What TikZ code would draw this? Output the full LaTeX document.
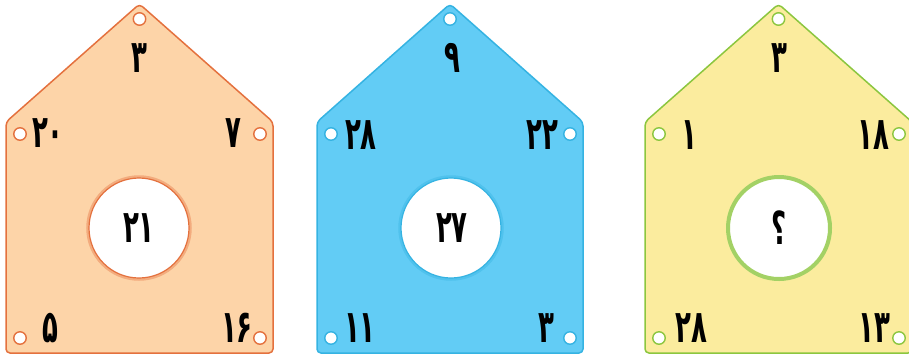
\documentclass[tikz,border=0pt]{standalone}
\usepackage{fontspec}
\newfontfamily\digfont[Script=Arabic]{DejaVu Sans}
\newcommand\dig[1]{\scalebox{1}[1.75]{#1}}
\definecolor{orfill}{HTML}{FDD4A8}
\definecolor{ordraw}{HTML}{E4713E}
\definecolor{blfill}{HTML}{62CCF5}
\definecolor{bldraw}{HTML}{35B3E2}
\definecolor{yefill}{HTML}{FBEC9E}
\definecolor{yedraw}{HTML}{8CC63F}
\begin{document}
\begin{tikzpicture}[x=1pt,y=-1pt,
    num/.style={font=\digfont\bfseries\fontsize{26}{26}\selectfont,inner sep=0pt},
    hole/.style={circle,fill=white,line width=1.4pt,minimum size=12.5pt,inner sep=0pt},
    house/.style={line width=1.5pt,rounded corners=4pt,line join=round}]
            \useasboundingbox (0,0) rectangle (909,360);
            \clip (0,0) rectangle (909,360);

            % first house
            \draw[house,draw=ordraw,fill=orfill] (6,353) -- (6,122) -- (139.5,4) -- (273,122) -- (273,353) -- cycle;
            \draw[orfill!60!ordraw,line width=3.5pt] (139,228) circle (51);
            \node[circle,draw=ordraw,fill=white,line width=1.2pt,minimum size=100pt,inner sep=0pt] (c1) at (139,228) {};
            \node[hole,draw=ordraw] (h1a) at (139.5,19) {};
            \node[hole,draw=ordraw] (h1b) at (20,134) {};
            \node[hole,draw=ordraw] (h1c) at (260,134) {};
            \node[hole,draw=ordraw] (h1d) at (20,338) {};
            \node[hole,draw=ordraw] (h1e) at (260,338) {};
            \node[num] (n1a) at (139,58) {\dig{۳}};
            \node[num] (n1b) at (48,133) {\dig{۲۰}};
            \node[num] (n1c) at (233,133) {\dig{۷}};
            \node[num] (n1d) at (139,228) {\dig{۲۱}};
            \node[num] (n1e) at (50,328) {\dig{۵}};
            \node[num] (n1f) at (237,328) {\dig{۱۶}};

            % second house
            \draw[house,draw=bldraw,fill=blfill] (317,353) -- (317,122) -- (450,4) -- (583,122) -- (583,353) -- cycle;
            \draw[blfill!60!bldraw,line width=3.5pt] (451,228) circle (51);
            \node[circle,draw=bldraw,fill=white,line width=1.2pt,minimum size=100pt,inner sep=0pt] (c2) at (451,228) {};
            \node[hole,draw=bldraw] (h2a) at (450,19) {};
            \node[hole,draw=bldraw] (h2b) at (331,134) {};
            \node[hole,draw=bldraw] (h2c) at (570,134) {};
            \node[hole,draw=bldraw] (h2d) at (331,338) {};
            \node[hole,draw=bldraw] (h2e) at (570,338) {};
            \node[num] (n2a) at (452,58) {\dig{۹}};
            \node[num] (n2b) at (361,135) {\dig{۲۸}};
            \node[num] (n2c) at (542,135) {\dig{۲۲}};
            \node[num] (n2d) at (452,228) {\dig{۲۷}};
            \node[num] (n2e) at (360,328) {\dig{۱۱}};
            \node[num] (n2f) at (546,328) {\dig{۳}};

            % third house
            \draw[house,draw=yedraw,fill=yefill] (645,353) -- (645,122) -- (778.5,4) -- (912,122) -- (912,353) -- cycle;
            \node[circle,draw=yedraw!80!white,fill=white,line width=4pt,minimum size=102pt,inner sep=0pt] (c3) at (779,228) {};
            \node[hole,draw=yedraw] (h3a) at (778.5,19) {};
            \node[hole,draw=yedraw] (h3b) at (659,134) {};
            \node[hole,draw=yedraw] (h3c) at (899,134) {};
            \node[hole,draw=yedraw] (h3d) at (659,338) {};
            \node[hole,draw=yedraw] (h3e) at (899,338) {};
            \node[num] (n3a) at (779,58) {\dig{۳}};
            \node[num] (n3b) at (689,135) {\dig{۱}};
            \node[num] (n3c) at (873,135) {\dig{۱۸}};
            \node[num] (n3d) at (779,228) {\dig{؟}};
            \node[num] (n3e) at (691,328) {\dig{۲۸}};
            \node[num] (n3f) at (874,328) {\dig{۱۳}};
        \end{tikzpicture}
\end{document}
